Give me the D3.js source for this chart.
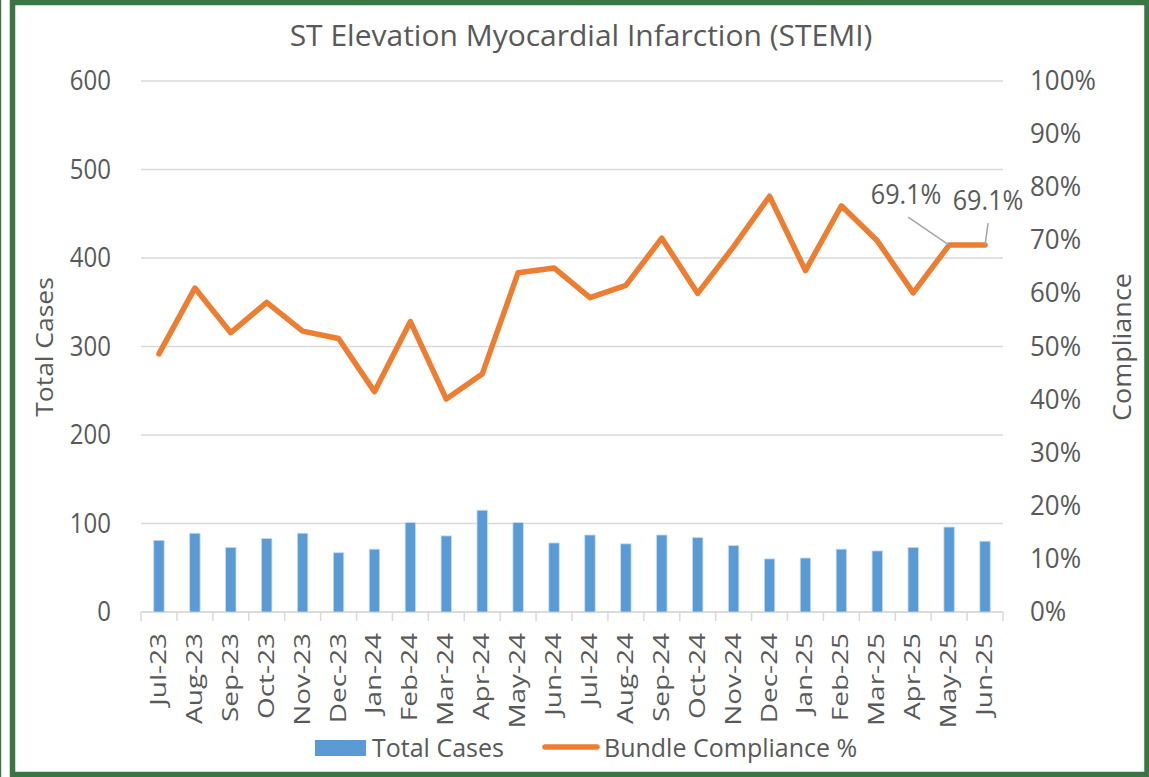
<!DOCTYPE html>
<html>
<head>
<meta charset="utf-8">
<script src="https://cdn.jsdelivr.net/npm/d3@7"></script>
<style>
  html, body { margin: 0; padding: 0; background: #fff; }
  svg { display: block; font-family: "Open Sans", "Noto Sans", sans-serif; }
</style>
</head>
<body>
<div id="chart"></div>
<script>
// Données STEMI : cas totaux (barres) + conformité du bundle (ligne)
const months = ["Jul-23","Aug-23","Sep-23","Oct-23","Nov-23","Dec-23","Jan-24","Feb-24","Mar-24","Apr-24","May-24","Jun-24",
                "Jul-24","Aug-24","Sep-24","Oct-24","Nov-24","Dec-24","Jan-25","Feb-25","Mar-25","Apr-25","May-25","Jun-25"];
const totalCases = [81, 89, 73, 83, 89, 67, 71, 101, 86, 115, 101, 78,
                    87, 77, 87, 84, 75, 60, 61, 71, 69, 73, 96, 80];
const compliance = [0.486, 0.610, 0.526, 0.583, 0.529, 0.515, 0.415, 0.547, 0.401, 0.448, 0.639, 0.648,
                    0.592, 0.615, 0.704, 0.600, 0.688, 0.783, 0.643, 0.765, 0.699, 0.601, 0.691, 0.691];
const leftTicks = [0, 100, 200, 300, 400, 500, 600];
const rightTicks = [0, 0.1, 0.2, 0.3, 0.4, 0.5, 0.6, 0.7, 0.8, 0.9, 1.0];
// étiquettes de données affichées (index du mois)
const labelled = [22, 23];

const W = 1149, H = 777;
const plot = { left: 141, right: 1003, top: 81, bottom: 612 };
const textColor = "#595959";
const gridColor = "#d9d9d9";
const blue = "#5b9bd5";
const orange = "#ed7d31";

const svg = d3.select("#chart").append("svg")
  .attr("width", W).attr("height", H)
  .attr("viewBox", [0, 0, W, H]);

// Cadre vert
svg.append("rect").attr("x", 0).attr("y", 0).attr("width", W).attr("height", H).attr("fill", "#fff");
svg.append("rect").attr("x", 0).attr("y", 0).attr("width", 1.2).attr("height", H).attr("fill", "#3b7445");
svg.append("rect")
  .attr("x", 12.5).attr("y", 2.5)
  .attr("width", 1147.5 - 12.5 - 0.5).attr("height", 774.5 - 2.5)
  .attr("fill", "none").attr("stroke", "#3b7445").attr("stroke-width", 5.5);

// Échelles
const x = d3.scaleBand().domain(months).range([plot.left, plot.right]).padding(0);
const yL = d3.scaleLinear().domain([0, 600]).range([plot.bottom, plot.top]);
const yR = d3.scaleLinear().domain([0, 1]).range([plot.bottom, plot.top]);
const barW = x.bandwidth() * 0.29;

// Grille
svg.append("g")
  .selectAll("line")
  .data(leftTicks)
  .join("line")
    .attr("x1", plot.left).attr("x2", plot.right)
    .attr("y1", d => yL(d)).attr("y2", d => yL(d))
    .attr("stroke", gridColor).attr("stroke-width", 1.5);

// Axe X (graduations entre catégories)
const xAxis = svg.append("g")
  .attr("transform", `translate(0,${plot.bottom})`);
xAxis.append("line")
  .attr("x1", plot.left).attr("x2", plot.right)
  .attr("stroke", gridColor).attr("stroke-width", 1.5);
xAxis.selectAll("line.tick")
  .data(months.concat(["__end"]))
  .join("line")
    .attr("class", "tick")
    .attr("x1", (d, i) => i < months.length ? x(d) : plot.right)
    .attr("x2", (d, i) => i < months.length ? x(d) : plot.right)
    .attr("y1", 0).attr("y2", 9)
    .attr("stroke", gridColor).attr("stroke-width", 1.5);
xAxis.selectAll("text")
  .data(months)
  .join("text")
    .attr("transform", d => `translate(${x(d) + x.bandwidth() / 2 + 7},${21}) rotate(-90) scale(1.3,1)`)
    .attr("text-anchor", "end")
    .attr("fill", textColor)
    .attr("font-size", 21.5)
    .text(d => d);

// Axe gauche
svg.append("g")
  .selectAll("text")
  .data(leftTicks)
  .join("text")
    .attr("transform", d => `translate(111,${yL(d) + 9}) scale(1,1.12)`)
    .attr("text-anchor", "end")
    .attr("fill", textColor).attr("font-size", 24)
    .text(d => d);

// Axe droit
svg.append("g")
  .selectAll("text")
  .data(rightTicks)
  .join("text")
    .attr("transform", d => `translate(1030,${yR(d) + 9}) scale(1.08,1.12)`)
    .attr("text-anchor", "start")
    .attr("fill", textColor).attr("font-size", 24)
    .text(d => d3.format(".0%")(d));

// Barres
svg.append("g")
  .selectAll("rect")
  .data(totalCases)
  .join("rect")
    .attr("x", (d, i) => x(months[i]) + (x.bandwidth() - barW) / 2)
    .attr("y", d => yL(d))
    .attr("width", barW)
    .attr("height", d => yL(0) - yL(d))
    .attr("fill", blue)
    .attr("stroke", "#c5dcf0").attr("stroke-width", 0.8);

// Ligne de conformité
const line = d3.line()
  .x((d, i) => x(months[i]) + x.bandwidth() / 2)
  .y(d => yR(d));
svg.append("path")
  .datum(compliance)
  .attr("d", line)
  .attr("fill", "none")
  .attr("stroke", orange)
  .attr("stroke-width", 5.5)
  .attr("stroke-linejoin", "round")
  .attr("stroke-linecap", "round");

// Étiquettes de données (déplacées à la main dans l'original)
const labelOffsets = [ { dx: -43, dy: -41, lx: -41, ly: -28 }, { dx: 3, dy: -35, lx: 3, ly: -22 } ];
labelled.forEach((idx, k) => {
  const px = x(months[idx]) + x.bandwidth() / 2;
  const py = yR(compliance[idx]);
  const o = labelOffsets[k];
  svg.append("line")
    .attr("x1", px).attr("y1", py)
    .attr("x2", px + o.lx).attr("y2", py + o.ly)
    .attr("stroke", "#a6a6a6").attr("stroke-width", 1.5);
  svg.append("text")
    .attr("transform", `translate(${px + o.dx},${py + o.dy}) scale(1.05,1.12)`)
    .attr("text-anchor", "middle")
    .attr("fill", textColor).attr("font-size", 24)
    .text(d3.format(".1%")(compliance[idx]));
});

// Titre
svg.append("text")
  .attr("x", 581).attr("y", 46)
  .attr("text-anchor", "middle")
  .attr("fill", textColor).attr("font-size", 30)
  .text("ST Elevation Myocardial Infarction (STEMI)");

// Titres des axes
svg.append("text")
  .attr("transform", `translate(53,347) rotate(-90) scale(1.08,1)`)
  .attr("text-anchor", "middle")
  .attr("fill", textColor).attr("font-size", 24.5)
  .text("Total Cases");
svg.append("text")
  .attr("transform", `translate(1131,347) rotate(-90) scale(1.08,1)`)
  .attr("text-anchor", "middle")
  .attr("fill", textColor).attr("font-size", 25)
  .text("Compliance");

// Légende
const legend = svg.append("g");
legend.append("rect")
  .attr("x", 315).attr("y", 740).attr("width", 51).attr("height", 16)
  .attr("fill", blue);
legend.append("text")
  .attr("x", 372).attr("y", 757)
  .attr("fill", textColor).attr("font-size", 25)
  .text("Total Cases");
legend.append("line")
  .attr("x1", 545).attr("x2", 597).attr("y1", 747).attr("y2", 747)
  .attr("stroke", orange).attr("stroke-width", 5.5).attr("stroke-linecap", "round");
legend.append("text")
  .attr("x", 604).attr("y", 757)
  .attr("fill", textColor).attr("font-size", 25)
  .text("Bundle Compliance %");
</script>
</body>
</html>
